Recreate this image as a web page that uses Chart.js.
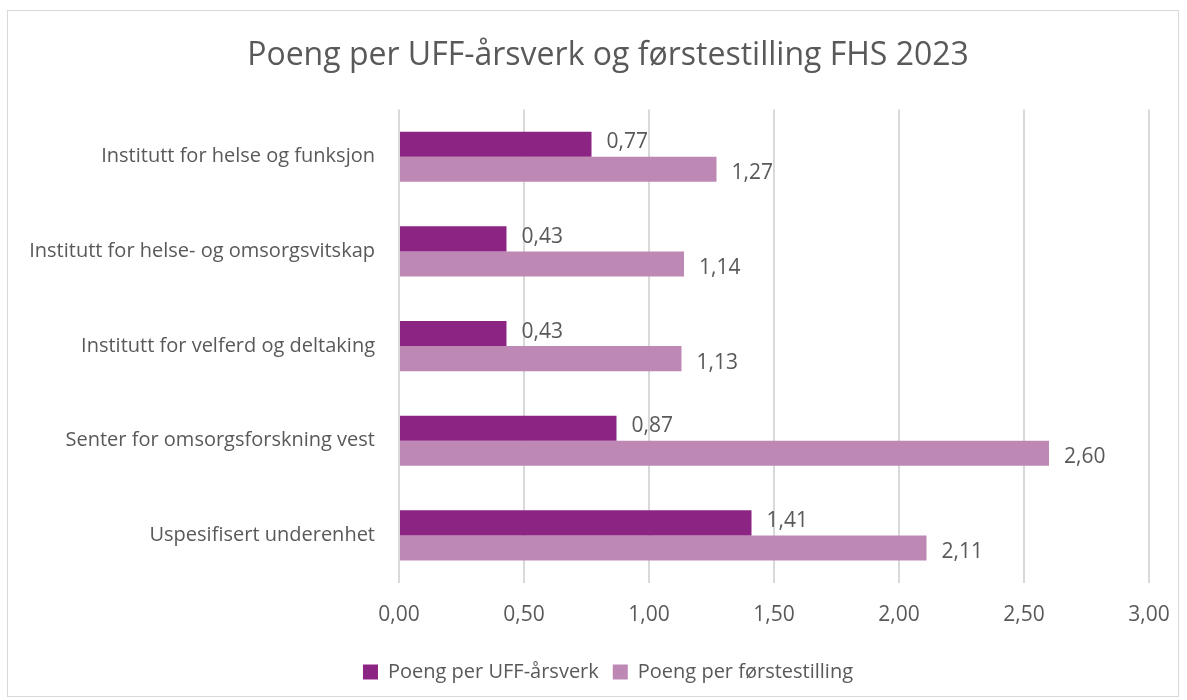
<!DOCTYPE html>
<html>
<head>
<meta charset="utf-8">
<script src="https://cdn.jsdelivr.net/npm/chart.js@4"></script>
<style>
  body { margin: 0; background: #fff; }
  #box { position: absolute; left: 7px; top: 10px; width: 1172px; height: 687px; border: 1px solid #d9d9d9; box-sizing: border-box; }
</style>
</head>
<body>
<div id="box"><canvas id="myChart"></canvas></div>
<script>
const categories = ['Institutt for helse og funksjon', 'Institutt for helse- og omsorgsvitskap', 'Institutt for velferd og deltaking', 'Senter for omsorgsforskning vest', 'Uspesifisert underenhet'];
const perUFF = [0.77, 0.43, 0.43, 0.87, 1.41];
const perForste = [1.27, 1.14, 1.13, 2.60, 2.11];
const seriesNames = ['Poeng per UFF-årsverk', 'Poeng per førstestilling'];

const textColor = '#595959';
const fontFam = "'Open Sans', 'Liberation Sans', sans-serif";
const rightGap = 29;

// layout tweaks + value at end of each bar
const valueLabels = {
  id: 'valueLabels',
  afterLayout(chart) {
    // let the long category labels draw into the left padding (no clipping)
    chart.scales.y.left = 0;
    // stretch the value axis to the right edge like the original
    let x = chart.scales.x, area = chart.chartArea;
    let r = chart.width - rightGap;
    if (r > x.right) {
      x.right = r;
      x.width = x.right - x.left;
      x.configure();
      area.right = r;
      area.width = area.right - area.left;
    }
  },
  afterDatasetsDraw(chart) {
    let ctx = chart.ctx;
    ctx.save();
    ctx.font = '21px ' + fontFam;
    ctx.fillStyle = textColor;
    ctx.textBaseline = 'middle';
    chart.data.datasets.forEach((ds, i) => {
      chart.getDatasetMeta(i).data.forEach((bar, j) => {
        let txt = ds.data[j].toFixed(2).replace('.', ',');
        ctx.fillText(txt, bar.x + 15, bar.y + (i == 0 ? -2 : 4));
      });
    });
    ctx.restore();
  }
};

const Chart1 = document.getElementById('myChart');
Chart1.width = 1170; Chart1.height = 685;

let myChart = new Chart(Chart1, {
  type: 'bar',
  data: {
    labels: categories,
    datasets: [
      { label: seriesNames[0], data: perUFF, backgroundColor: '#8B2482', categoryPercentage: 0.53, barPercentage: 1 },
      { label: seriesNames[1], data: perForste, backgroundColor: '#BE88B4', categoryPercentage: 0.53, barPercentage: 1 }
    ]
  },
  options: {
    indexAxis: 'y',
    responsive: false,
    animation: false,
    layout: { autoPadding: false, padding: { left: 48, right: 18, top: 16, bottom: 4 } },
    plugins: {
      title: {
        display: true,
        text: 'Poeng per UFF-årsverk og førstestilling FHS 2023',
        color: textColor,
        font: { family: fontFam, size: 32, weight: 'normal' },
        padding: { top: 10, bottom: 34 }
      },
      legend: {
        position: 'bottom',
        labels: {
          color: textColor,
          font: { family: fontFam, size: 20 },
          boxWidth: 15, boxHeight: 15, padding: 14
        }
      },
      tooltip: { enabled: false }
    },
    scales: {
      x: {
        min: 0, max: 3,
        ticks: {
          stepSize: 0.5,
          color: textColor,
          font: { family: fontFam, size: 21 },
          padding: 20,
          callback: v => v.toFixed(2).replace('.', ',')
        },
        grid: { color: '#d9d9d9', lineWidth: 2, drawTicks: false },
        border: { display: false }
      },
      y: {
        // labels are wider than this, they run out into the left padding
        afterFit: (scale) => { scale.width = 343; },
        ticks: { color: textColor, font: { family: fontFam, size: 20 }, padding: 16 },
        grid: { display: false },
        border: { display: false }
      }
    }
  },
  plugins: [valueLabels]
});
</script>
</body>
</html>
